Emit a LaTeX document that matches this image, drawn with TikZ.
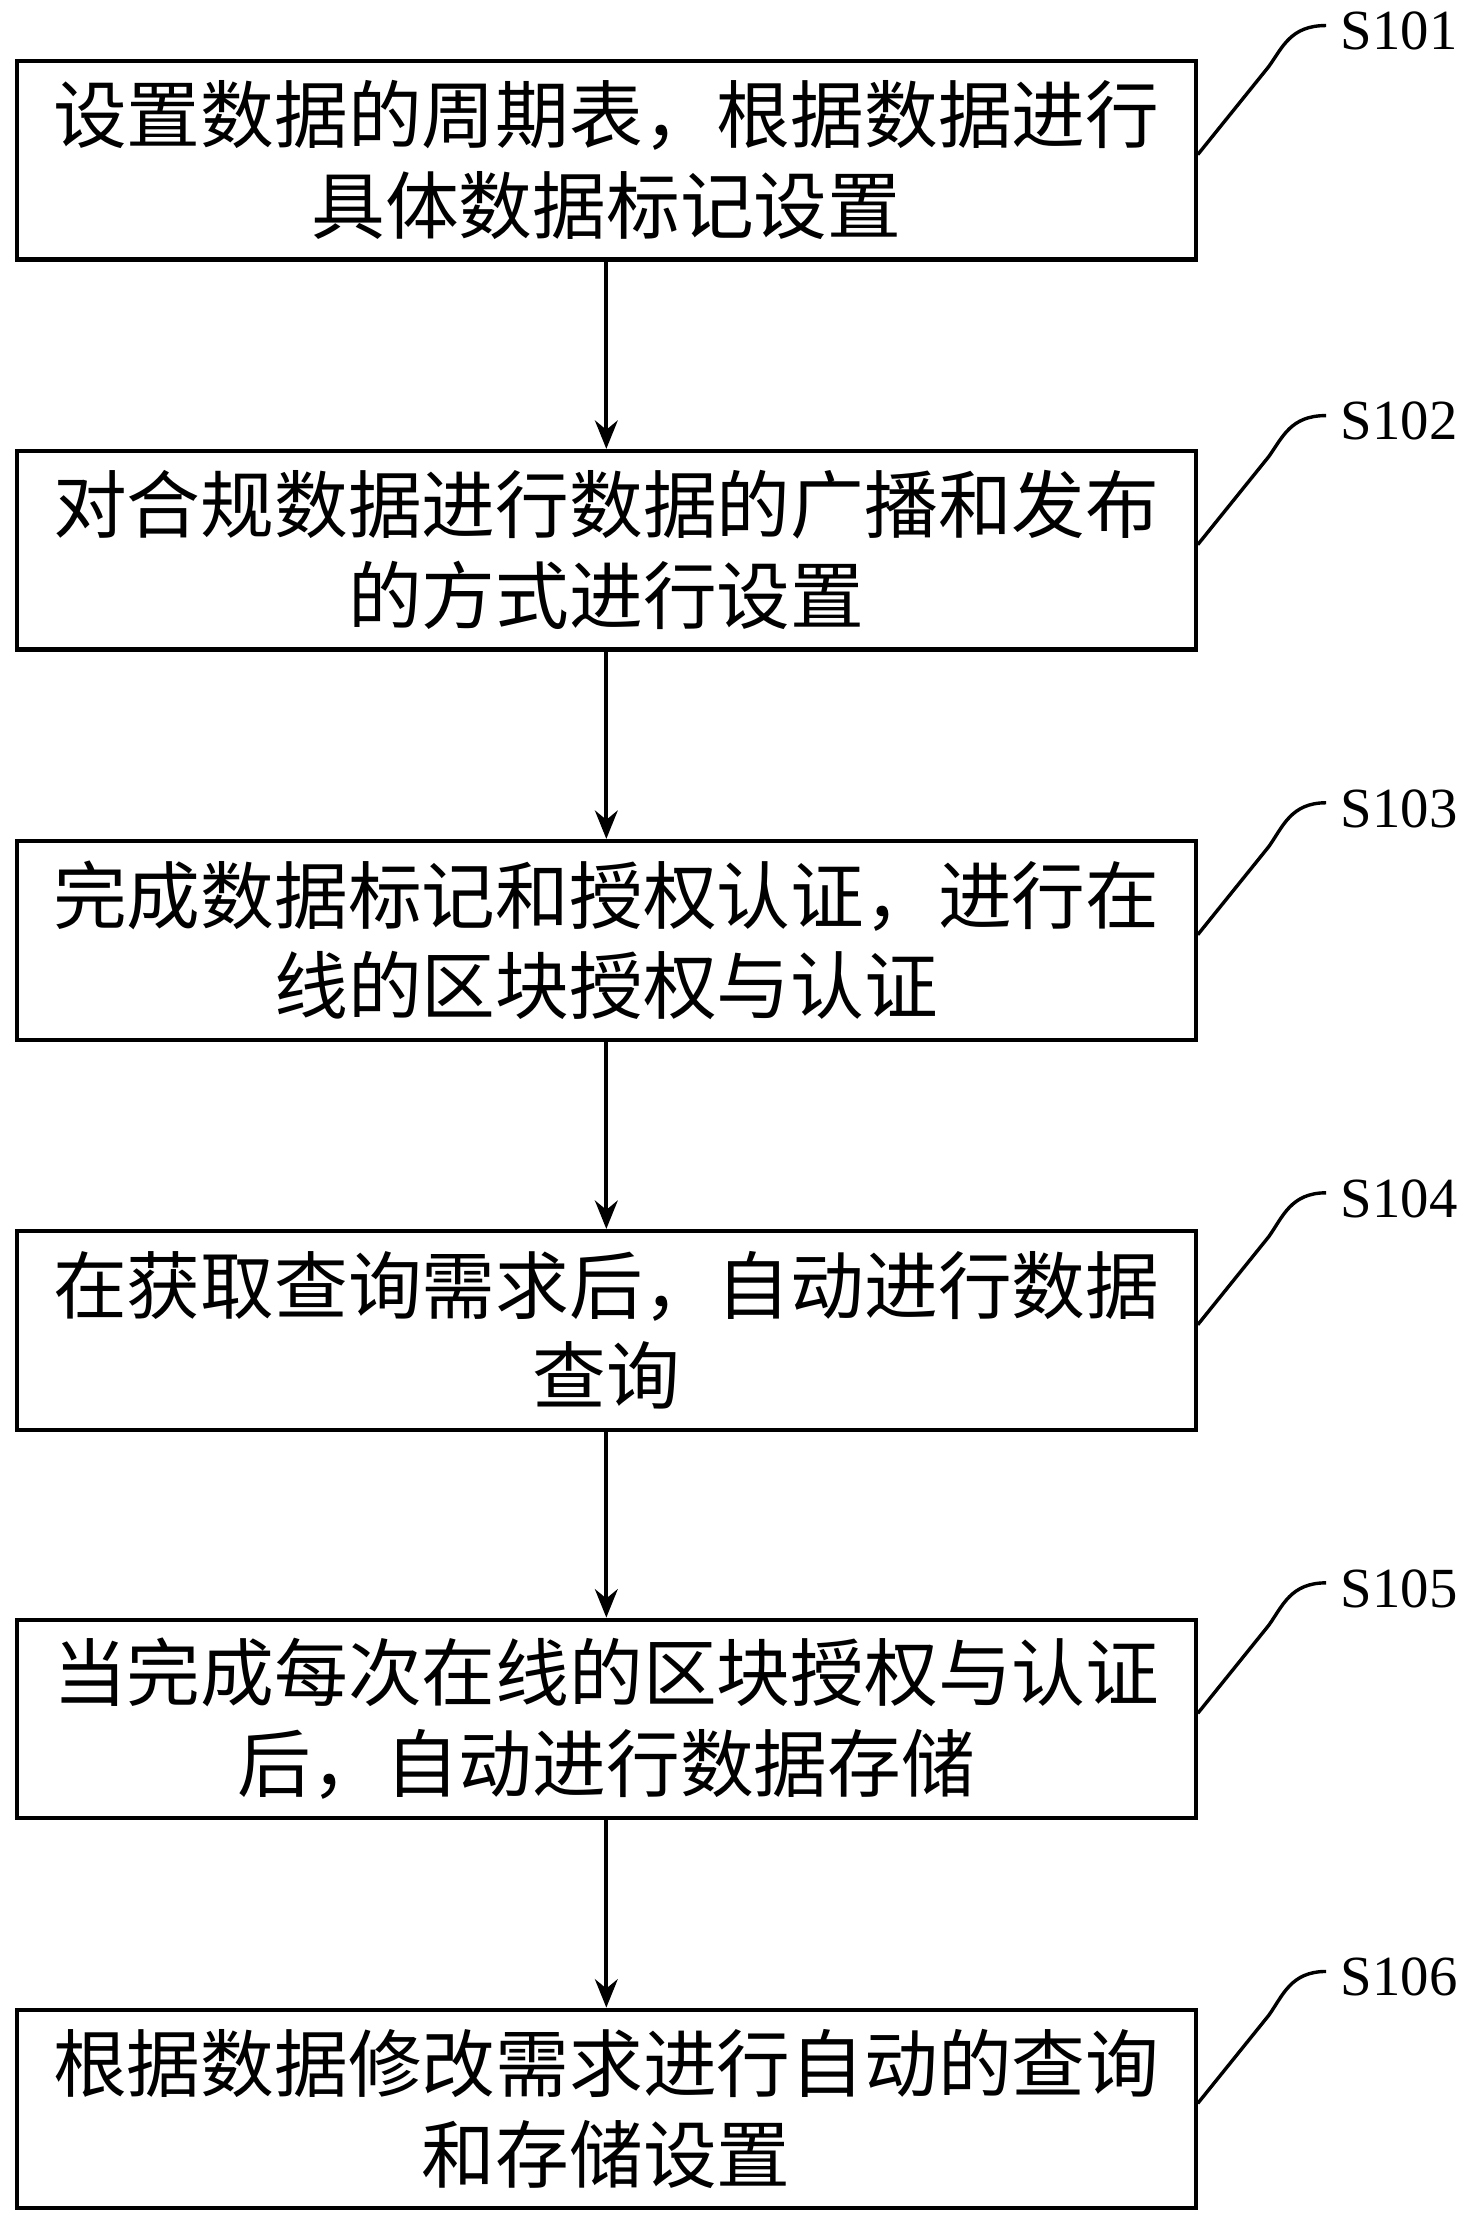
\documentclass[tikz,border=0pt]{standalone}
\usepackage{fontspec}
\setmainfont{Liberation Serif}
\newfontfamily\cjk{Noto Sans CJK SC}
\usetikzlibrary{arrows.meta}
\begin{document}
\begin{tikzpicture}[x=0.5pt,y=-0.5pt,
  box/.style={draw,line width=1.5pt,minimum width=415.5pt,minimum height=70pt,inner sep=0pt,align=center,font=\cjk\fontsize{26}{32}\selectfont},
  arr/.style={-{Stealth[length=10pt,width=8pt]},line width=1.5pt},
  lead/.style={line width=1.2pt},
  lab/.style={font=\fontsize{20}{24}\selectfont,anchor=west,inner sep=0pt}]
\useasboundingbox (0,0) rectangle (1040,1573);
\node[box] (b1) at (427.5,113) {设置数据的周期表，根据数据进行\\具体数据标记设置};
\node[box] (b2) at (427.5,388) {对合规数据进行数据的广播和发布\\的方式进行设置};
\node[box] (b3) at (427.5,663) {完成数据标记和授权认证，进行在\\线的区块授权与认证};
\node[box] (b4) at (427.5,938) {在获取查询需求后，自动进行数据\\查询};
\node[box] (b5) at (427.5,1212) {当完成每次在线的区块授权与认证\\后，自动进行数据存储};
\node[box] (b6) at (427.5,1487) {根据数据修改需求进行自动的查询\\和存储设置};
\foreach \i/\j in {1/2,2/3,3/4,4/5,5/6} \draw[arr] (b\i.south) -- (b\j.north);
\foreach \i/\y in {1/22,2/297,3/570,4/845,5/1120,6/1394} {
  \node[lab] (s\i) at (945,\y) {S10\i};
  \coordinate (c\i) at (935,\y-4);
  \draw[lead] (b\i.east) ++(0,-4) -- ++(50,-62) .. controls +(10,-14) and +(-25,0) .. (c\i);
}
\end{tikzpicture}
\end{document}
